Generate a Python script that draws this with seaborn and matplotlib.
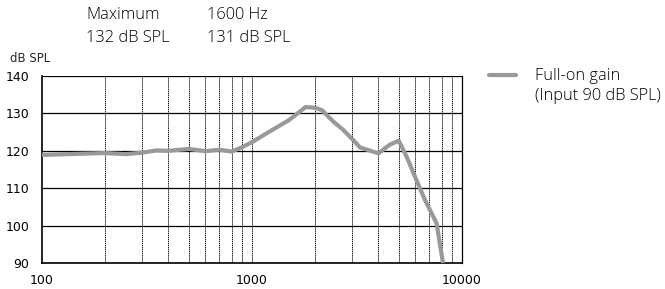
import pandas as pd
import seaborn as sns
import matplotlib.pyplot as plt
from matplotlib.ticker import FixedLocator, NullFormatter

# full-on gain curve
freq = [100, 150, 200, 250, 300, 350, 400, 500, 600, 700, 800, 900, 1000, 1200,
        1500, 1800, 2000, 2150, 2440, 2720, 3030, 3270, 4000, 4520, 5000, 5450,
        5970, 6670, 7570, 8100]
gain = [118.9, 119.2, 119.4, 119.1, 119.5, 120.1, 120.0, 120.5, 119.9, 120.3,
        119.8, 121.0, 122.3, 125.0, 128.2, 131.7, 131.5, 130.9, 127.8, 125.6,
        122.9, 120.9, 119.3, 121.6, 122.7, 118.4, 113.1, 106.8, 100.6, 90.3]
y_ticks = [90, 100, 110, 120, 130, 140]
x_ticks = [100, 1000, 10000]
minor_x = [200, 300, 400, 500, 600, 700, 800, 900,
           2000, 3000, 4000, 5000, 6000, 7000, 8000, 9000]

df = pd.DataFrame({'Frequency': freq, 'Gain': gain})

sns.set_style('white')
plt.rcParams['font.family'] = ['DejaVu Sans']

fig = plt.figure(figsize=(6.65, 2.89), dpi=100)
ax = fig.add_axes([42 / 665, 1 - 263 / 289, 420 / 665, 187 / 289])

# grid lines first so the curve sits on top
for v in minor_x + [1000]:
    ax.axvline(v, color='black', lw=0.7, ls=(0, (1.2, 0.8)), zorder=1)
for h in y_ticks:
    ax.axhline(h, color='black', lw=0.9, zorder=1)

sns.lineplot(data=df, x='Frequency', y='Gain', color='#999999', lw=3,
             ax=ax, zorder=3, label='_nolegend_')

ax.set_xscale('log')
ax.set_xlim(100, 10000)
ax.set_ylim(90, 140)
ax.xaxis.set_major_locator(FixedLocator(x_ticks))
ax.xaxis.set_minor_locator(FixedLocator([]))
ax.set_xticklabels([str(v) for v in x_ticks])
ax.xaxis.set_minor_formatter(NullFormatter())
ax.set_yticks(y_ticks)
ax.set_xlabel('')
ax.set_ylabel('')
ax.tick_params(axis='both', labelsize=9, colors='black', length=4, width=0.9,
               direction='out')
ax.tick_params(axis='y', pad=5)
ax.tick_params(axis='x', pad=4)

for side in ['left', 'bottom']:
    ax.spines[side].set_color('black')
    ax.spines[side].set_linewidth(1.2)
ax.spines['top'].set_visible(False)
ax.spines['right'].set_color('black')
ax.spines['right'].set_linewidth(0.9)

# text above the plot, in a lighter face
txt = dict(fontsize=11.8, va='center', ha='left', family=['Open Sans', 'DejaVu Sans'],
           fontweight='light', color='black')
fig.text(10 / 665, 1 - 58 / 289, 'dB SPL', fontsize=8.5, va='center', ha='left')
fig.text(86 / 665, 1 - 15 / 289, 'Maximum', **txt)
fig.text(86 / 665, 1 - 38 / 289, '132 dB SPL', **txt)
fig.text(207 / 665, 1 - 15 / 289, '1600 Hz', **txt)
fig.text(207 / 665, 1 - 38 / 289, '131 dB SPL', **txt)

# legend drawn by hand to the right
fig.lines.append(plt.Line2D([489 / 665, 516 / 665], [1 - 75 / 289, 1 - 75 / 289],
                            color='#999999', lw=3, transform=fig.transFigure))
fig.text(535 / 665, 1 - 76 / 289, 'Full-on gain', **txt)
fig.text(535 / 665, 1 - 96 / 289, '(Input 90 dB SPL)', **txt)

plt.savefig('out.png', dpi=100)
